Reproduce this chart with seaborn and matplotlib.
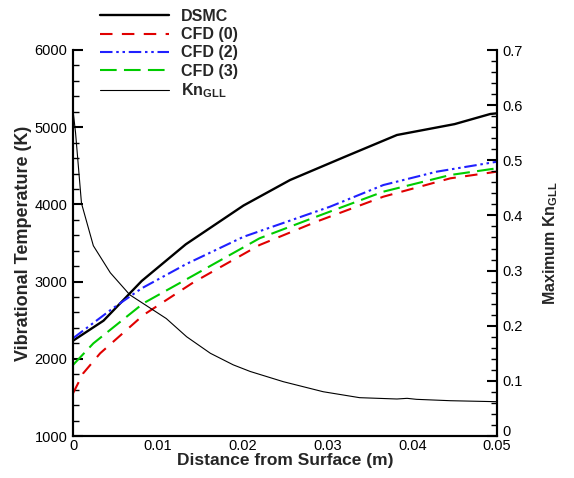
import matplotlib
matplotlib.use("Agg")
import matplotlib.pyplot as plt
import matplotlib.transforms as mtransforms
import seaborn as sns
import pandas as pd
from matplotlib.ticker import MultipleLocator, AutoMinorLocator

# ---- data ----
dsmc_x = [0, 0.0036, 0.0081, 0.0133, 0.0201, 0.0256, 0.032, 0.0382, 0.045, 0.0492, 0.05]
dsmc_t = [2234, 2494, 3008, 3483, 3985, 4316, 4614, 4899, 5040, 5171, 5180]

cfd2_x = [0, 0.0047, 0.0081, 0.0134, 0.0201, 0.0303, 0.0366, 0.0429, 0.05]
cfd2_t = [2266, 2654, 2913, 3230, 3580, 3970, 4251, 4424, 4553]

cfd3_x = [0, 0.0024, 0.0083, 0.0142, 0.0220, 0.0287, 0.0366, 0.0445, 0.05]
cfd3_t = [1920, 2200, 2719, 3080, 3561, 3841, 4165, 4381, 4468]

cfd0_x = [0, 0.0012, 0.0032, 0.0083, 0.0142, 0.0220, 0.0287, 0.0366, 0.0445, 0.05]
cfd0_t = [1553, 1812, 2071, 2567, 2990, 3474, 3776, 4100, 4338, 4424]

kn_x = [0, 0.0003, 0.0010, 0.0024, 0.0044, 0.0067, 0.0110, 0.0134, 0.0162, 0.0189,
        0.0209, 0.0248, 0.0295, 0.0338, 0.0382, 0.0394, 0.0405, 0.0445, 0.05]
kn_v = [0.591, 0.55, 0.422, 0.345, 0.296, 0.256, 0.213, 0.180, 0.150, 0.129,
        0.117, 0.0985, 0.0803, 0.0695, 0.0671, 0.0683, 0.0665, 0.064, 0.0622]

labels = ["DSMC", "CFD (0)", "CFD (2)", "CFD (3)", "Kn$_{\\mathregular{GLL}}$"]
x_ticks = [0, 0.01, 0.02, 0.03, 0.04, 0.05]
x_tick_labels = ["0", "0.01", "0.02", "0.03", "0.04", "0.05"]
kn_ticks = [0, 0.1, 0.2, 0.3, 0.4, 0.5, 0.6, 0.7]
kn_tick_labels = ["0", "0.1", "0.2", "0.3", "0.4", "0.5", "0.6", "0.7"]

sns.set_theme(style="white")
plt.rcParams["font.family"] = ["Liberation Sans", "DejaVu Sans"]
plt.rcParams["mathtext.default"] = "regular"

fig = plt.figure(figsize=(5.74, 4.78), dpi=100)
ax = fig.add_axes([73/574, 42/478, (497-73)/574, (436-50)/478])
ax2 = ax.twinx()

df_dsmc = pd.DataFrame({"x": dsmc_x, "y": dsmc_t})
df_c0 = pd.DataFrame({"x": cfd0_x, "y": cfd0_t})
df_c2 = pd.DataFrame({"x": cfd2_x, "y": cfd2_t})
df_c3 = pd.DataFrame({"x": cfd3_x, "y": cfd3_t})
df_kn = pd.DataFrame({"x": kn_x, "y": kn_v})

sns.lineplot(data=df_dsmc, x="x", y="y", ax=ax, color="black", lw=1.7, label=labels[0], legend=False)
sns.lineplot(data=df_c0, x="x", y="y", ax=ax, color="#e00000", lw=1.5, label=labels[1], legend=False)
sns.lineplot(data=df_c2, x="x", y="y", ax=ax, color="#2020ff", lw=1.5, label=labels[2], legend=False)
sns.lineplot(data=df_c3, x="x", y="y", ax=ax, color="#00cc00", lw=1.5, label=labels[3], legend=False)
sns.lineplot(data=df_kn, x="x", y="y", ax=ax2, color="black", lw=0.8, label=labels[4], legend=False)

lines = ax.get_lines()
lines[1].set_dashes([6, 4.5])
lines[2].set_dashes([6, 1.8, 1.2, 1.8, 1.2, 1.8])
lines[3].set_dashes([8, 3.5])

ax.set_xlim(0, 0.05)
ax.set_ylim(1000, 6000)
ax2.set_ylim(0, 0.7)

ax.set_xticks(x_ticks)
ax.set_xticklabels(x_tick_labels)
ax.xaxis.set_minor_locator(AutoMinorLocator(5))
ax.yaxis.set_major_locator(MultipleLocator(1000))
ax.yaxis.set_minor_locator(AutoMinorLocator(5))
ax2.set_yticks(kn_ticks)
ax2.set_yticklabels(kn_tick_labels)
ax2.yaxis.set_minor_locator(AutoMinorLocator(5))

for a in (ax, ax2):
    for s in a.spines.values():
        s.set_linewidth(1.5)
        s.set_color("black")
    a.spines["top"].set_visible(False)

ax.tick_params(axis="both", which="major", direction="in", length=7, width=1.5,
               labelsize=10.5, colors="black", pad=4)
ax.tick_params(axis="both", which="minor", direction="in", length=4, width=1.0, colors="black")
ax.tick_params(axis="x", which="both", top=False, pad=2.5)
ax.tick_params(axis="y", which="both", right=False)
ax2.tick_params(axis="y", which="major", direction="in", length=7, width=1.5,
                labelsize=10.5, colors="black", pad=4)
ax2.tick_params(axis="y", which="minor", direction="in", length=4, width=1.0, colors="black")

# the right-hand "0" sits slightly above its tick in the reference
zero_lbl = ax2.yaxis.get_major_ticks()[0].label2
zero_lbl.set_transform(zero_lbl.get_transform() +
                       mtransforms.ScaledTranslation(0, 6/100, fig.dpi_scale_trans))

ax.set_xlabel("Distance from Surface (m)", fontsize=12.5, fontweight="bold", labelpad=0)
ax.set_ylabel("Vibrational Temperature (K)", fontsize=13, fontweight="bold", labelpad=2)
ax2.set_ylabel("Maximum Kn$_{\\mathregular{GLL}}$", fontsize=11.5, fontweight="bold", labelpad=13)

handles = ax.get_lines() + ax2.get_lines()
fig.legend(handles=handles, labels=labels, loc="upper left",
           bbox_to_anchor=(100/574, 1 - 9/478), frameon=False,
           prop={"weight": "bold", "size": 11.5}, handlelength=4.3,
           handletextpad=0.75, labelspacing=0.2, borderaxespad=0, borderpad=0)

fig.savefig("out.png", dpi=100, facecolor="white")
